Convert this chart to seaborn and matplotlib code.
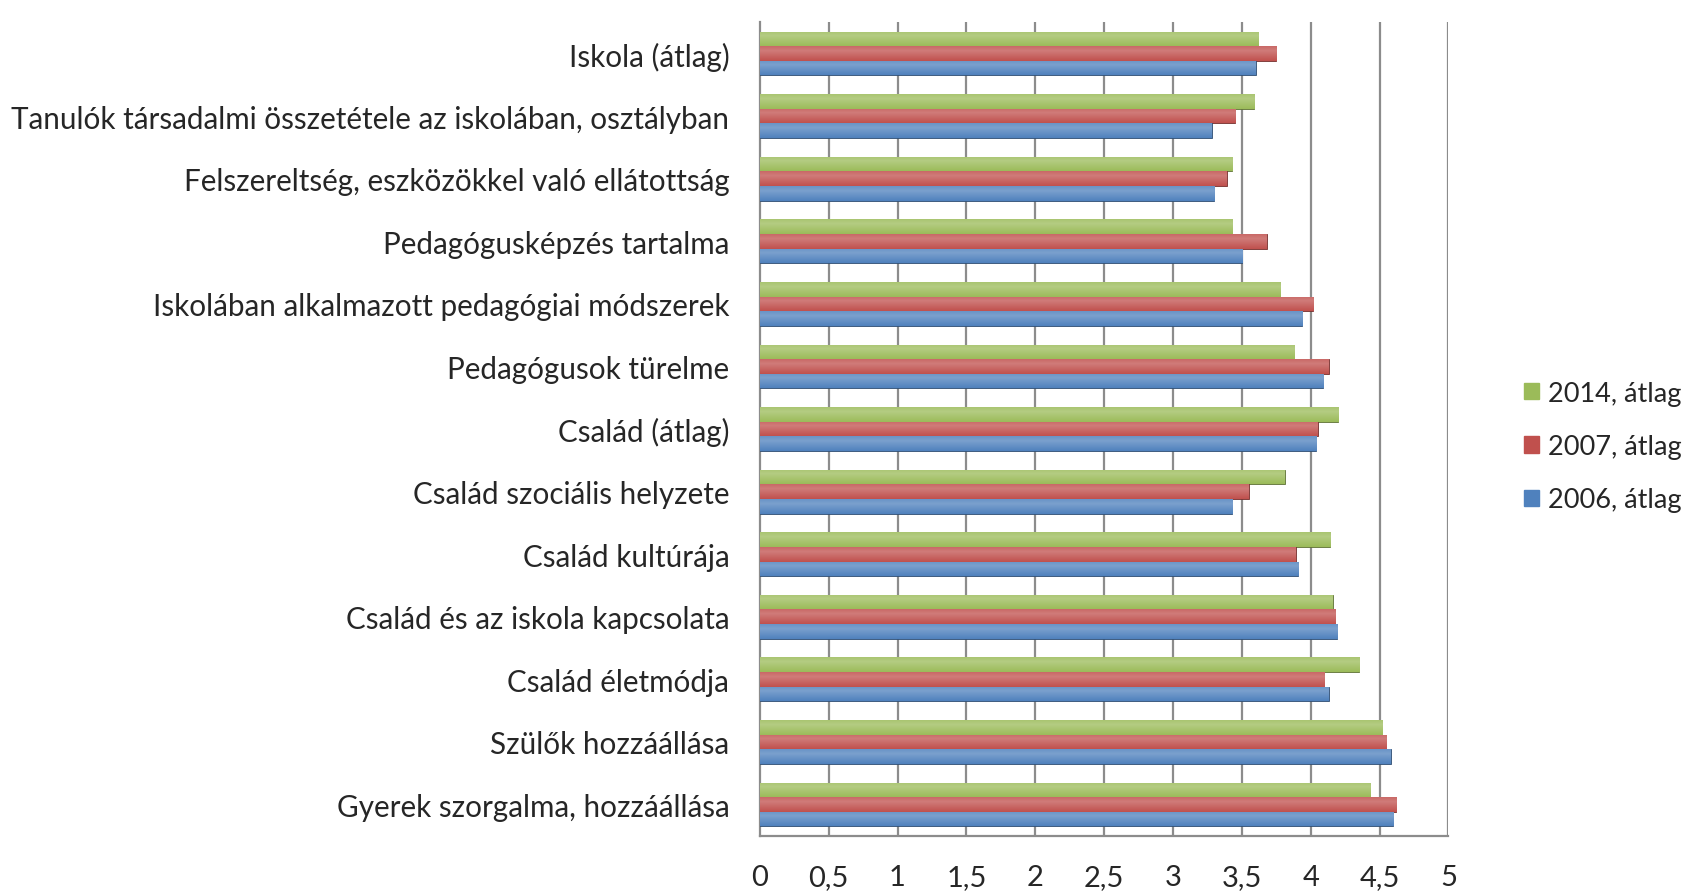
import matplotlib
matplotlib.use("Agg")
import matplotlib.pyplot as plt
import matplotlib.colors as mcolors
import numpy as np
import pandas as pd
import seaborn as sns

categories = [
    "Iskola (átlag)",
    "Tanulók társadalmi összetétele az iskolában, osztályban",
    "Felszereltség, eszközökkel való ellátottság",
    "Pedagógusképzés tartalma",
    "Iskolában alkalmazott pedagógiai módszerek",
    "Pedagógusok türelme",
    "Család (átlag)",
    "Család szociális helyzete",
    "Család kultúrája",
    "Család és az iskola kapcsolata",
    "Család életmódja",
    "Szülők hozzáállása",
    "Gyerek szorgalma, hozzáállása",
]
series = ["2014, átlag", "2007, átlag", "2006, átlag"]
v2014 = [3.62, 3.59, 3.43, 3.43, 3.78, 3.88, 4.20, 3.81, 4.14, 4.16, 4.35, 4.52, 4.43]
v2007 = [3.75, 3.45, 3.39, 3.68, 4.02, 4.13, 4.05, 3.55, 3.89, 4.18, 4.10, 4.55, 4.62]
v2006 = [3.60, 3.28, 3.30, 3.50, 3.94, 4.09, 4.04, 3.43, 3.91, 4.19, 4.13, 4.58, 4.60]
colors = ["#9BBB59", "#C0504D", "#4F81BD"]
xticks = [0, 0.5, 1, 1.5, 2, 2.5, 3, 3.5, 4, 4.5, 5]
xticklabels = ["0", "0,5", "1", "1,5", "2", "2,5", "3", "3,5", "4", "4,5", "5"]

df = pd.DataFrame({
    "kategoria": categories * 3,
    "sorozat": [s for s in series for _ in categories],
    "ertek": v2014 + v2007 + v2006,
})

sns.set_style("white")
plt.rcParams["font.family"] = ["Lato", "DejaVu Sans"]

fig = plt.figure(figsize=(16.96, 8.95), dpi=100)
ax = fig.add_axes([0.448, 0.065, 0.406, 0.909])

sns.barplot(data=df, y="kategoria", x="ertek", hue="sorozat", order=categories,
            hue_order=series, palette=colors, orient="h", width=0.7,
            saturation=1, ax=ax, legend=False, zorder=3)

# cylinder-like shading on each bar
light = 1 - np.abs(np.linspace(0, 1, 40) - 0.3) * 1.4
for patch, col in zip(ax.patches, [c for c in colors for _ in categories]):
    x0, y0 = patch.get_x(), patch.get_y()
    w, h = patch.get_width(), patch.get_height()
    base = np.array(mcolors.to_rgb(col))
    grad = np.stack([base + (1 - base) * 0.25 * l if l > 0 else base * (1 + 0.5 * l)
                     for l in light])
    grad = np.clip(grad, 0, 1)[:, None, :]
    im = ax.imshow(grad, extent=(x0, x0 + w, y0 + h, y0), origin="upper",
                   aspect="auto", zorder=4, interpolation="bilinear")
    im.set_clip_path(patch)
    patch.set_edgecolor(tuple(base * 0.6))
    patch.set_linewidth(0.6)

ax.set_xlim(0, 5)
ax.set_ylim(12.5, -0.5)
ax.set_xticks(xticks)
ax.set_xticklabels(xticklabels, fontsize=21)
ax.set_yticks(range(len(categories)))
ax.set_yticklabels(categories, fontsize=21.3)
ax.set_yticks(np.arange(-0.5, 12.6, 1), minor=True)
ax.tick_params(axis="y", which="major", length=0, pad=22)
ax.tick_params(axis="y", which="minor", length=9, color="#8c8c8c", width=1.5)
ax.tick_params(axis="x", length=8, color="#8c8c8c", width=1.5, pad=12)
ax.set_xlabel("")
ax.set_ylabel("")

for xv in xticks[1:]:
    ax.axvline(xv, color="#8c8c8c", lw=1.6, zorder=1)

for side in ["top", "right"]:
    ax.spines[side].set_visible(False)
for side in ["left", "bottom"]:
    ax.spines[side].set_color("#8c8c8c")
    ax.spines[side].set_linewidth(1.6)

handles = [plt.Rectangle((0, 0), 1, 1, color=c) for c in colors]
fig.legend(handles, series, loc="center left", bbox_to_anchor=(0.884, 0.5),
           frameon=False, fontsize=19.5, handlelength=0.55, handleheight=0.55,
           handletextpad=0.35, labelspacing=1.05)

fig.savefig("out.png", dpi=100)
